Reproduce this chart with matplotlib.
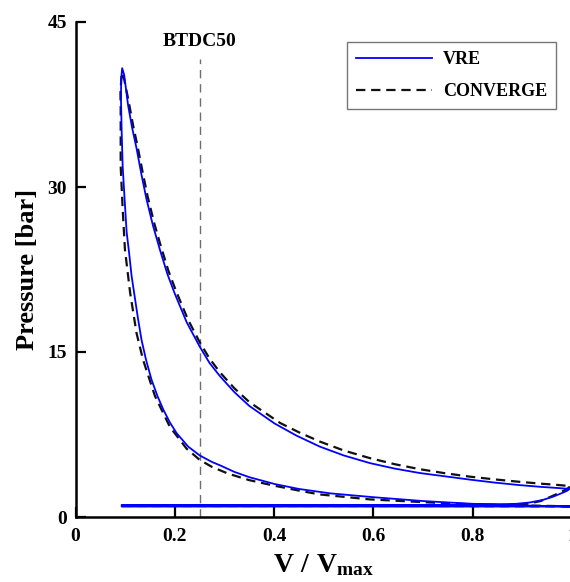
import matplotlib
matplotlib.use("Agg")
import matplotlib.pyplot as plt

plt.rcParams['font.family'] = ['Liberation Serif', 'DejaVu Serif']
plt.rcParams['font.weight'] = 'bold'
plt.rcParams['mathtext.fontset'] = 'custom'
plt.rcParams['mathtext.rm'] = 'Liberation Serif:bold'
plt.rcParams['mathtext.bf'] = 'Liberation Serif:bold'
plt.rcParams['mathtext.it'] = 'Liberation Serif:bold'

# VRE cycle: compression -> peak -> expansion -> blowdown -> exhaust -> intake
vre_v = [1.0, 0.9, 0.8, 0.7, 0.6, 0.513, 0.45, 0.401, 0.35, 0.32, 0.291, 0.275, 0.25,
         0.227, 0.204, 0.19, 0.177, 0.165, 0.153, 0.142, 0.133, 0.126, 0.120,
         0.113, 0.108, 0.103, 0.099, 0.095, 0.093, 0.0916, 0.092, 0.094,
         0.098, 0.106, 0.114, 0.123, 0.133, 0.143, 0.156, 0.170, 0.185, 0.200,
         0.224, 0.250, 0.270, 0.291, 0.32, 0.35, 0.401, 0.445, 0.492, 0.54, 0.593,
         0.643, 0.693, 0.744, 0.794, 0.844, 0.894, 0.94, 0.97, 0.995,
         0.99, 0.981, 0.962, 0.941, 0.915, 0.888, 0.84, 0.78, 0.6, 0.4, 0.2,
         0.093, 0.093, 0.2, 0.4, 0.6, 0.8, 1.0]
vre_p = [0.95, 1.05, 1.2, 1.45, 1.8, 2.15, 2.55, 3.0, 3.62, 4.1, 4.7, 5.0, 5.6,
         6.4, 7.6, 8.6, 9.75, 11.0, 12.5, 14.3, 16.1, 18.0, 19.8,
         21.9, 24.0, 25.9, 28.8, 31.9, 35.0, 38.0, 39.8, 40.8,
         40.2, 37.4, 35.4, 33.5, 31.1, 28.9, 26.5, 24.3, 22.1, 20.3,
         17.7, 15.5, 14.0, 12.8, 11.35, 10.1, 8.5, 7.4, 6.4, 5.6, 4.9,
         4.4, 4.0, 3.7, 3.4, 3.13, 2.9, 2.73, 2.64, 2.55,
         2.38, 2.2, 1.85, 1.55, 1.32, 1.2, 1.13, 1.1, 1.1, 1.1, 1.1,
         1.1, 0.95, 0.95, 0.95, 0.95, 0.95, 0.95]

# CONVERGE cycle
conv_v = [1.0, 0.9, 0.8, 0.7, 0.593, 0.492, 0.45, 0.40, 0.35, 0.307, 0.275, 0.25,
          0.224, 0.190, 0.160, 0.136, 0.123, 0.110, 0.0996, 0.095,
          0.091, 0.091, 0.0905, 0.093,
          0.098, 0.107, 0.116, 0.125, 0.135, 0.145, 0.158, 0.172, 0.187, 0.202,
          0.226, 0.25, 0.27, 0.291, 0.32, 0.35, 0.412, 0.45, 0.492, 0.54, 0.593,
          0.643, 0.693, 0.744, 0.794, 0.844, 0.894, 0.94, 0.975, 0.997,
          0.99, 0.975, 0.955, 0.937, 0.91, 0.87, 0.7, 0.5, 0.3, 0.093,
          0.093, 0.3, 0.5, 0.7, 1.0]
conv_p = [0.97, 1.05, 1.15, 1.35, 1.6, 2.05, 2.4, 2.85, 3.35, 3.95, 4.55, 5.2,
          6.2, 8.2, 11.0, 14.3, 16.7, 20.4, 24.3, 28.0,
          31.9, 37.1, 38.5, 40.4,
          39.8, 37.8, 35.6, 33.7, 31.4, 29.2, 26.8, 24.6, 22.4, 20.6,
          18.0, 15.9, 14.4, 13.15, 11.7, 10.45, 8.55, 7.7, 6.86, 6.05, 5.35,
          4.8, 4.35, 3.98, 3.67, 3.42, 3.2, 3.02, 2.9, 2.8,
          2.55, 2.2, 1.8, 1.45, 1.2, 1.1, 1.08, 1.08, 1.08, 1.08,
          1.0, 1.0, 1.0, 1.0, 0.97]

x_ticks = [0, 0.2, 0.4, 0.6, 0.8, 1.0]
x_ticklabels = ['0', '0.2', '0.4', '0.6', '0.8', '1']
y_ticks = [0, 15, 30, 45]
btdc_v = 0.25
btdc_top = 41.6

fig = plt.figure(figsize=(5.70, 5.82), dpi=100)
ax = fig.add_axes([75.5 / 570, 65 / 582, 496.5 / 570, 495 / 582])

ax.plot([btdc_v, btdc_v], [0, btdc_top], color='#6e6e6e', lw=1.0,
        dashes=(6, 4.2), zorder=1)
ax.plot(vre_v, vre_p, color='#0000ff', lw=1.3, label='VRE', zorder=3)
ax.plot(conv_v, conv_p, color='#111111', lw=1.6, dashes=(4.2, 2.6),
        label='CONVERGE', zorder=2)

ax.text(btdc_v, 43.2, 'BTDC50', ha='center', va='center', fontsize=14,
        fontweight='bold')

ax.set_xlim(0, 1.0)
ax.set_ylim(0, 45)
ax.set_xticks(x_ticks)
ax.set_xticklabels(x_ticklabels)
ax.set_yticks(y_ticks)
ax.tick_params(direction='in', length=7, width=1.6, labelsize=14, pad=8)
ax.tick_params(axis='y', pad=6)
for lab in ax.get_xticklabels() + ax.get_yticklabels():
    lab.set_fontweight('bold')

ax.spines['top'].set_visible(False)
ax.spines['right'].set_visible(False)
ax.spines['left'].set_linewidth(1.8)
ax.spines['bottom'].set_linewidth(1.8)

ax.set_xlabel(r'$\mathbf{V\ /\ V_{max}}$', fontsize=20, labelpad=5)
ax.set_ylabel('Pressure [bar]', fontsize=19, fontweight='bold', labelpad=6)

leg = ax.legend(loc='upper right', bbox_to_anchor=(0.968, 0.96), fontsize=13,
                fancybox=False, frameon=True, handlelength=4.2,
                borderpad=0.5, labelspacing=0.85, handletextpad=0.6,
                borderaxespad=0)
leg.get_frame().set_edgecolor('#555555')
leg.get_frame().set_linewidth(1.0)
for t in leg.get_texts():
    t.set_fontweight('bold')

fig.savefig('out.png', dpi=100)
